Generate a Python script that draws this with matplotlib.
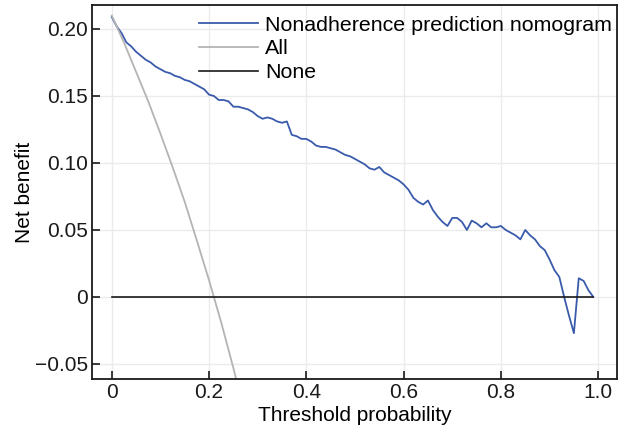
import numpy as np
import matplotlib
matplotlib.use("Agg")
import matplotlib.pyplot as plt

plt.rcParams["font.family"] = ["Liberation Sans", "DejaVu Sans"]

# threshold probabilities (every 0.01)
thr = np.round(np.arange(0, 100) * 0.01, 2)

# net benefit of the nomogram
nb_model = [
	0.209, 0.202, 0.197, 0.190, 0.187, 0.183, 0.180, 0.177, 0.175, 0.172,
	0.170, 0.168, 0.167, 0.165, 0.164, 0.162, 0.161, 0.159, 0.157, 0.155,
	0.151, 0.150, 0.147, 0.147, 0.146, 0.142, 0.142, 0.141, 0.140, 0.138,
	0.135, 0.133, 0.134, 0.133, 0.131, 0.130, 0.131, 0.121, 0.120, 0.118,
	0.118, 0.116, 0.113, 0.112, 0.112, 0.111, 0.110, 0.108, 0.106, 0.105,
	0.103, 0.101, 0.099, 0.096, 0.095, 0.097, 0.093, 0.091, 0.089, 0.087,
	0.084, 0.080, 0.074, 0.071, 0.069, 0.072, 0.065, 0.060, 0.056, 0.053,
	0.059, 0.059, 0.056, 0.050, 0.057, 0.055, 0.052, 0.055, 0.052, 0.052,
	0.053, 0.050, 0.048, 0.046, 0.043, 0.050, 0.046, 0.043, 0.038, 0.035,
	0.028, 0.020, 0.015, 0.000, -0.014, -0.027, 0.014, 0.012, 0.005, 0.000,
]

# treat-all curve
thr_all = [0, 0.025, 0.05, 0.075, 0.10, 0.125, 0.15, 0.175, 0.20, 0.225, 0.25, 0.275, 0.30]
nb_all = [0.210, 0.190, 0.168, 0.146, 0.122, 0.097, 0.071, 0.042, 0.0125, -0.019, -0.053, -0.089, -0.129]

# treat-none
thr_none = [0, 0.99]
nb_none = [0, 0]

xticks = [0, 0.2, 0.4, 0.6, 0.8, 1.0]
xtick_labels = ["0", "0.2", "0.4", "0.6", "0.8", "1.0"]
yticks = [-0.05, 0, 0.05, 0.10, 0.15, 0.20]
ytick_labels = ["\u22120.05", "0", "0.05", "0.10", "0.15", "0.20"]

fs = 15

fig = plt.figure(figsize=(6.22, 4.32), dpi=100)
ax = fig.add_axes([92.3/622, 1 - 379/432, (616.7 - 92.3)/622, (379 - 5)/432])

ax.plot(thr, nb_model, color="#3a5bab", lw=1.3, label="Nonadherence prediction nomogram")
ax.plot(thr_all, nb_all, color="#b4b4b4", lw=1.3, label="All")
ax.plot(thr_none, nb_none, color="#1a1a1a", lw=1.2, label="None")

ax.set_xlim(-0.04, 1.038)
ax.set_ylim(-0.0612, 0.2179)
ax.set_xticks(xticks)
ax.set_xticklabels(xtick_labels)
ax.set_yticks(yticks)
ax.set_yticklabels(ytick_labels)
ax.grid(True, color="#ebebeb", lw=1.0)
ax.set_axisbelow(True)
ax.tick_params(direction="in", length=6, width=1.2, labelsize=fs, colors="#1a1a1a", pad=3)
for s in ax.spines.values():
	s.set_linewidth(1.3)
	s.set_color("#1a1a1a")

ax.set_xlabel("Threshold probability", fontsize=fs, labelpad=3)
ax.set_ylabel("Net benefit", fontsize=fs, labelpad=1)

ax.legend(loc="upper right", bbox_to_anchor=(1.012, 1.0), frameon=False, fontsize=15.4,
	handlelength=2.75, handletextpad=0.35, labelspacing=0.22, borderaxespad=0.05, borderpad=0.45)

fig.savefig("out.png", dpi=100)
